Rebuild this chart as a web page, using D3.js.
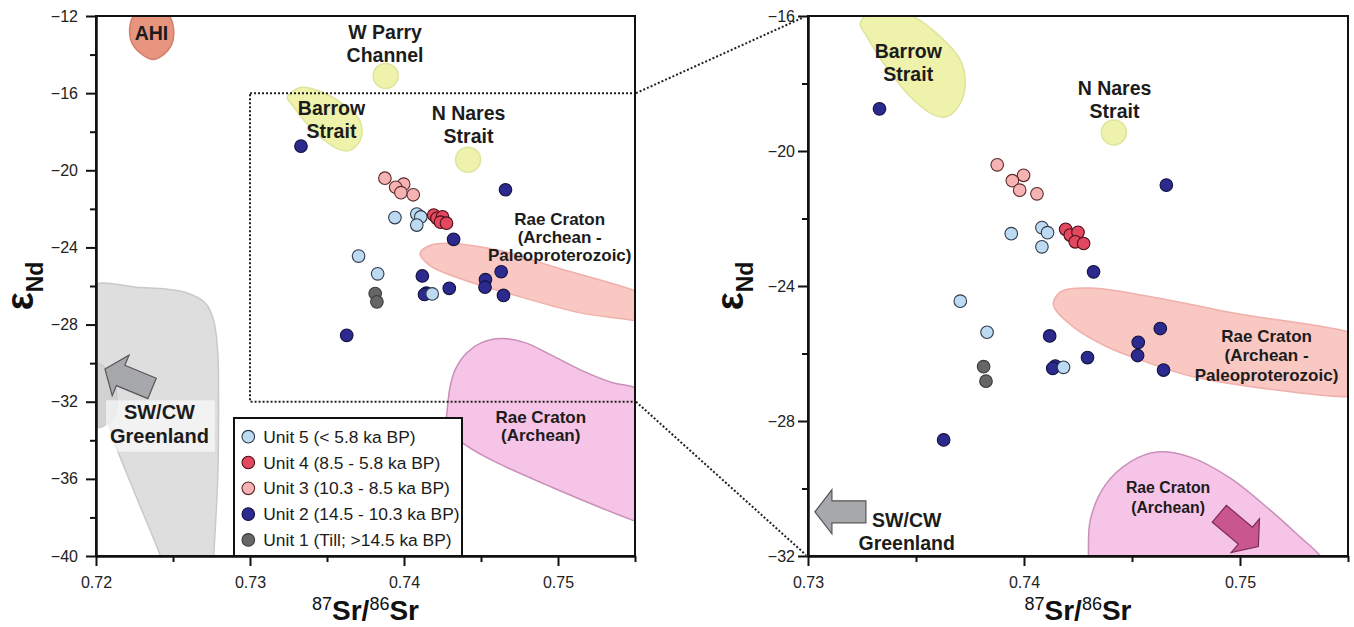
<!DOCTYPE html>
<html><head><meta charset="utf-8">
<script src="https://cdn.jsdelivr.net/npm/d3@7"></script>
<style>
body{margin:0;background:#fff}
text{font-family:Arial,"Liberation Sans",sans-serif}
</style>
</head><body>
<svg id="c" width="1354" height="627"></svg>
<script>
// ---------------- data ----------------
const unitLabels = ["Unit 5 (< 5.8 ka BP)","Unit 4 (8.5 - 5.8 ka BP)","Unit 3 (10.3 - 8.5 ka BP)","Unit 2 (14.5 - 10.3 ka BP)","Unit 1 (Till; >14.5 ka BP)"];
const unit5Sr=[0.73941,0.74083,0.74109,0.74083,0.73705,0.73829,0.74183];
const unit5Nd=[-22.45,-22.27,-22.42,-22.84,-24.45,-25.37,-26.41];
const unit4Sr=[0.74193,0.74214,0.74250,0.74237,0.74276];
const unit4Nd=[-22.32,-22.49,-22.41,-22.69,-22.74];
const unit3Sr=[0.73876,0.73998,0.73946,0.73980,0.74060];
const unit3Nd=[-20.41,-20.72,-20.88,-21.16,-21.27];
const unit2Sr=[0.73331,0.74659,0.74322,0.74119,0.74145,0.74133,0.74294,0.74529,0.74526,0.74631,0.74646,0.73628];
const unit2Nd=[-18.75,-21.01,-23.58,-25.48,-26.37,-26.44,-26.12,-25.67,-26.06,-25.26,-26.49,-28.56];
const unit1Sr=[0.73813,0.73824];
const unit1Nd=[-26.39,-26.82];

const leftXTicks=[0.72,0.73,0.74,0.75], leftXMinor=[0.725,0.735,0.745,0.755];
const leftYTicks=[-40,-36,-32,-28,-24,-20,-16,-12], leftYMinor=[-38,-34,-30,-26,-22,-18,-14];
const rightXTicks=[0.73,0.74,0.75], rightXMinor=[0.735,0.745,0.755];
const rightYTicks=[-32,-28,-24,-20,-16], rightYMinor=[-30,-26,-22,-18];

// source-region outlines (data units: [87Sr/86Sr, eNd])
const ahiOutline=[[0.7236,-11.6],[0.72475,-12.0],[0.72505,-12.8],[0.7249,-13.5],[0.7243,-14.05],[0.7237,-14.25],[0.7231,-14.05],[0.7224,-13.5],[0.72218,-12.8],[0.72245,-12.0]];
const wParryCenter=[0.73881,-15.11];
const nNaresCenter=[0.74416,-19.45];
const barrowOutline=[[0.73242,-16.22],[0.73273,-16.61],[0.73350,-17.40],[0.73474,-18.39],[0.73582,-18.93],[0.73644,-18.98],[0.73705,-18.59],[0.73728,-17.99],[0.73705,-17.30],[0.73612,-16.61],[0.73470,-15.95],[0.73330,-15.70]];
const raeAPLeft=[[0.74104,-24.31],[0.74168,-23.90],[0.74298,-23.79],[0.74621,-24.16],[0.75010,-25.09],[0.75495,-26.23],[0.7570,-26.9],[0.7570,-28.1],[0.75495,-27.79],[0.75139,-27.38],[0.74751,-26.55],[0.74362,-25.61],[0.74168,-24.94]];
const raeAPRight=[[0.74136,-24.56],[0.74168,-24.18],[0.74307,-24.06],[0.74662,-24.41],[0.74969,-24.80],[0.75495,-25.35],[0.7570,-25.8],[0.7570,-27.2],[0.75495,-27.28],[0.75279,-27.17],[0.74784,-26.69],[0.74538,-26.19],[0.74384,-25.80],[0.74228,-25.21]];
const raeArchLeft=[[0.74276,-33.4],[0.74280,-32.5],[0.74300,-31.2],[0.74335,-30.3],[0.74410,-29.45],[0.74500,-28.95],[0.74630,-28.72],[0.74790,-28.95],[0.74960,-29.6],[0.75160,-30.4],[0.75350,-31.0],[0.75500,-31.25],[0.7575,-32],[0.7575,-38.9],[0.75495,-38.18],[0.74964,-36.45],[0.74535,-34.89],[0.74362,-34.03]];
const raeArchRight=[[0.74295,-32.8],[0.74298,-32.0],[0.74307,-30.93],[0.74376,-29.90],[0.74492,-29.21],[0.74617,-28.92],[0.74770,-29.07],[0.74955,-29.69],[0.75140,-30.64],[0.75279,-31.44],[0.75372,-32.0],[0.7545,-32.8]];
const greenlandOutline=[[0.71950,-26.08],[0.72291,-26.08],[0.72583,-26.34],[0.72712,-26.91],[0.72764,-27.79],[0.72790,-29.35],[0.72796,-31.95],[0.72790,-36.10],[0.72764,-40.05],[0.72757,-41.3],[0.72472,-41.3],[0.72421,-40.05],[0.72259,-36.88],[0.72129,-34.29],[0.72032,-31.95],[0.71950,-30.39]];
const greenlandInner=[[0.72136,-31.9],[0.72100,-30.6],[0.72,-29.99],[0.71904,-30.5],[0.71864,-31.68],[0.71904,-32.86],[0.72,-33.37],[0.72110,-32.9]];

// annotation anchors (data units)
const leftLabels=[
 {t:["AHI"],p:[0.72360,-13.244],k:"big"},
 {t:["W Parry","Channel"],p:[0.73877,-13.19],k:"big"},
 {t:["Barrow","Strait"],p:[0.73529,-17.13],k:"big"},
 {t:["N Nares","Strait"],p:[0.74419,-17.39],k:"big"},
 {t:["Rae Craton","(Archean -","Paleoproterozoic)"],p:[0.75011,-22.84],k:"mid"},
 {t:["Rae Craton","(Archean)"],p:[0.74888,-33.12],k:"mid"},
 {t:["SW/CW","Greenland"],p:[0.72412,-32.91],k:"gl"}
];
const rightLabels=[
 {t:["Barrow","Strait"],p:[0.73464,-17.253],k:"big"},
 {t:["N Nares","Strait"],p:[0.74419,-18.34],k:"big"},
 {t:["Rae Craton","(Archean -","Paleoproterozoic)"],p:[0.75123,-25.65],k:"midR"},
 {t:["Rae Craton","(Archean)"],p:[0.74667,-30.14],k:"small"},
 {t:["SW/CW","Greenland"],p:[0.73457,-31.15],k:"big"}
];
const leftArrows=[{tip:[0.72058,-30.30],ang:202.5,kind:"gray"}];
const rightArrows=[{tip:[0.73032,-30.69],ang:180,kind:"gray"},{tip:[0.75085,-31.72],ang:40,kind:"mag"}];

// ---------------- styles ----------------
const unitFill=["#bcdaf2","#e2485f","#f7b3b3","#2c2a8e","#666666"];
const unitStroke=["#2f3a4a","#4a1018","#5a2a2a","#14123f","#3a3a3a"];
const labelStyle={big:{size:19.5,lh:23},mid:{size:17,lh:18},midR:{size:17,lh:19.5},small:{size:15.8,lh:20},gl:{size:20,lh:23.5}};

const svg=d3.select("#c");
const font='Arial,"Liberation Sans",sans-serif';

function panel(o){
  const {x,y,xT,xM,yT,yM,id,raeAP,raeArch,labels,arrows,yPad} = o;
  const [x0,x1]=x.range(), [y1,y0]=y.range();
  svg.append("clipPath").attr("id",id).append("rect").attr("x",x0).attr("y",y0).attr("width",x1-x0).attr("height",y1-y0);
  const g=svg.append("g");
  const reg=g.append("g").attr("clip-path",`url(#${id})`);
  const line=d3.line().x(d=>x(d[0])).y(d=>y(d[1])).curve(d3.curveCatmullRomClosed.alpha(0.5));
  if(o.left){
    reg.append("path").attr("d",line(greenlandOutline)).attr("fill","#dedede").attr("stroke","#c9c9c9").attr("stroke-width",1.5);
    reg.append("path").attr("d",line(greenlandInner)).attr("fill","#d2d2d2").attr("stroke","#c4c4c4").attr("stroke-width",1);
    reg.append("path").attr("d",line(ahiOutline)).attr("fill","#e8957f").attr("stroke","#d27e6a").attr("stroke-width",1.5);
    reg.append("circle").attr("cx",x(wParryCenter[0])).attr("cy",y(wParryCenter[1])).attr("r",12.5).attr("fill","#eef2ab").attr("stroke","#dfe49c").attr("stroke-width",1.5);
  }
  reg.append("path").attr("d",line(barrowOutline)).attr("fill","#eef2ab").attr("stroke","#dfe49c").attr("stroke-width",1.5);
  reg.append("circle").attr("cx",x(nNaresCenter[0])).attr("cy",y(nNaresCenter[1])).attr("r",12.5).attr("fill","#eef2ab").attr("stroke","#dfe49c").attr("stroke-width",1.5);
  reg.append("path").attr("d",line(raeAP)).attr("fill","#f9c8c3").attr("stroke","#f0b0aa").attr("stroke-width",1.5);
  reg.append("path").attr("d",line(raeArch)).attr("fill","#f6c4e6").attr("stroke","#c98fba").attr("stroke-width",1.5);

  if(o.left){
    reg.append("rect").attr("x",x(0.73)).attr("y",y(-16)).attr("width",x(0.755)-x(0.73)).attr("height",y(-32)-y(-16))
      .attr("fill","none").attr("stroke","#222").attr("stroke-width",2).attr("stroke-dasharray","2,2");
  }
  labels.forEach(L=>{
    const st=labelStyle[L.k];
    const t=g.append("text").attr("text-anchor","middle").attr("font-weight","bold").attr("font-size",st.size).attr("fill","#1c1c1c");
    L.t.forEach((s,i)=>t.append("tspan").attr("x",x(L.p[0])).attr("y",y(L.p[1])+i*st.lh).text(s));
    if(L.k==="gl"){
      const b=t.node().getBBox();
      g.insert("rect",()=>t.node()).attr("x",b.x-4).attr("y",b.y-1).attr("width",b.width+10).attr("height",b.height+6).attr("fill","#ffffff").attr("fill-opacity",0.6);
    }
  });
  const shape=[[0,0],[-17,-22],[-17,-11],[-51,-11],[-51,11],[-17,11],[-17,22]];
  arrows.forEach(A=>{
    g.append("path").attr("d",d3.line()(shape)+"Z")
     .attr("transform",`translate(${x(A.tip[0])},${y(A.tip[1])}) rotate(${A.ang})`)
     .attr("fill",A.kind==="gray"?"#a7a8ac":"#c9568f").attr("stroke",A.kind==="gray"?"#555":"#7a2a55").attr("stroke-width",1.2);
  });
  const pts=g.append("g");
  const sets=[[unit1Sr,unit1Nd,4],[unit2Sr,unit2Nd,3],[unit3Sr,unit3Nd,2],[unit4Sr,unit4Nd,1],[unit5Sr,unit5Nd,0]];
  sets.forEach(([sx,sy,k])=>{
    pts.selectAll(null).data(sx.map((v,i)=>[v,sy[i]])).join("circle")
      .attr("cx",d=>x(d[0])).attr("cy",d=>y(d[1])).attr("r",6.3)
      .attr("fill",unitFill[k]).attr("stroke",unitStroke[k]).attr("stroke-width",1.1);
  });
  if(o.left){
    const lg=g.append("g");
    lg.append("rect").attr("x",234).attr("y",418).attr("width",228).attr("height",y1-418).attr("fill","#fff").attr("stroke","#111").attr("stroke-width",2);
    unitLabels.forEach((s,i)=>{
      const cy=436.7+i*25.8;
      lg.append("circle").attr("cx",248.3).attr("cy",cy).attr("r",6.3).attr("fill",unitFill[i]).attr("stroke",unitStroke[i]).attr("stroke-width",1.1);
      lg.append("text").attr("x",263.3).attr("y",cy+6).attr("font-size",17.4).attr("fill","#1c1c1c").text(s);
    });
  }
  const fmtY=d3.format("d");
  g.append("g").attr("transform",`translate(0,${y1})`).call(d3.axisBottom(x).tickValues(xT).tickSize(10).tickSizeOuter(0).tickPadding(11).tickFormat(d3.format(".2f")));
  g.append("g").attr("transform",`translate(0,${y1})`).call(d3.axisBottom(x).tickValues(xM).tickSize(6).tickSizeOuter(0).tickFormat(""));
  g.append("g").attr("transform",`translate(${x0},0)`).call(d3.axisLeft(y).tickValues(yT).tickSize(10).tickSizeOuter(0).tickPadding(yPad).tickFormat(fmtY));
  g.append("g").attr("transform",`translate(${x0},0)`).call(d3.axisLeft(y).tickValues(yM).tickSize(6).tickSizeOuter(0).tickFormat(""));
  g.selectAll(".tick line").attr("stroke","#111").attr("stroke-width",2);
  g.selectAll(".domain").attr("stroke","#111").attr("stroke-width",2);
  g.selectAll(".tick text").attr("font-size",16).attr("font-family",font).attr("fill","#222");
  g.append("rect").attr("x",x0).attr("y",y0).attr("width",x1-x0).attr("height",y1-y0).attr("fill","none").attr("stroke","#111").attr("stroke-width",2);
  const xt=g.append("text").attr("x",(x0+x1)/2).attr("y",620).attr("text-anchor","middle").attr("fill","#111");
  xt.append("tspan").attr("font-size",18).attr("dy",-10).text("87");
  xt.append("tspan").attr("font-size",28).attr("font-weight","bold").attr("dy",10).text("Sr/");
  xt.append("tspan").attr("font-size",18).attr("dy",-10).text("86");
  xt.append("tspan").attr("font-size",28).attr("font-weight","bold").attr("dy",10).text("Sr");
  const yt=g.append("text").attr("transform",`translate(${o.ytx},${(y0+y1)/2}) rotate(-90)`).attr("text-anchor","middle").attr("fill","#111").attr("font-weight","bold");
  yt.append("tspan").attr("font-size",38).text("ε");
  yt.append("tspan").attr("font-size",23).attr("dy",10).text("Nd");
  return g;
}

const xL=d3.scaleLinear().domain([0.72,0.755]).range([96,635]);
const yL=d3.scaleLinear().domain([-40,-12]).range([556,16]);
const xR=d3.scaleLinear().domain([0.73,0.755]).range([808,1348]);
const yR=d3.scaleLinear().domain([-32,-16]).range([556,16]);

panel({left:true,x:xL,y:yL,xT:leftXTicks,xM:leftXMinor,yT:leftYTicks,yM:leftYMinor,id:"clipL",raeAP:raeAPLeft,raeArch:raeArchLeft,labels:leftLabels,arrows:leftArrows,yPad:8,ytx:33});
panel({left:false,x:xR,y:yR,xT:rightXTicks,xM:rightXMinor,yT:rightYTicks,yM:rightYMinor,id:"clipR",raeAP:raeAPRight,raeArch:raeArchRight,labels:rightLabels,arrows:rightArrows,yPad:3,ytx:743});

const con=svg.append("g").attr("stroke","#222").attr("stroke-width",2).attr("stroke-dasharray","2,2");
con.append("line").attr("x1",xL(0.755)+1).attr("y1",yL(-16)).attr("x2",xR(0.73)-6).attr("y2",yR(-16)+2);
con.append("line").attr("x1",xL(0.755)+1).attr("y1",yL(-32)).attr("x2",xR(0.73)-2).attr("y2",yR(-32)-1);
</script>
</body></html>
